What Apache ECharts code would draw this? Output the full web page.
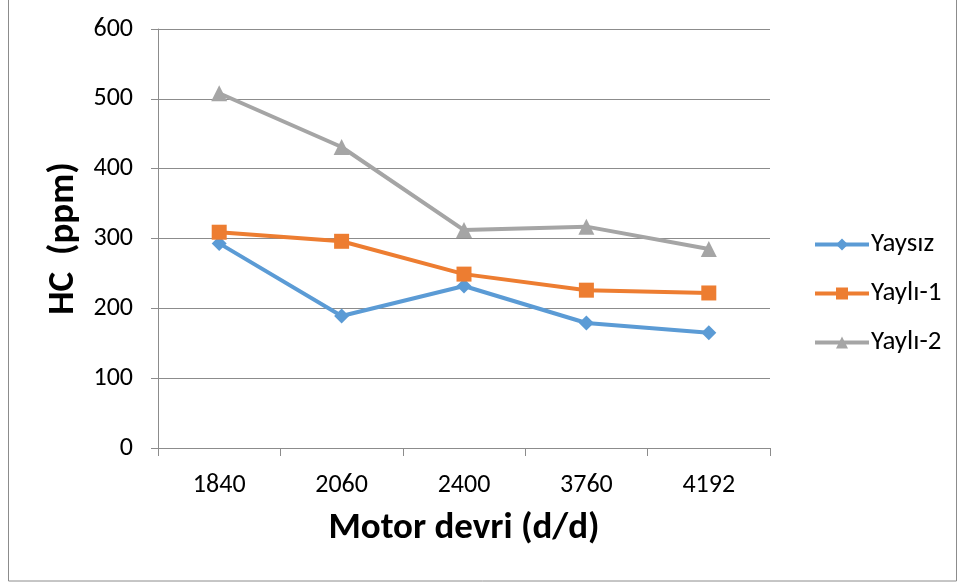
<!DOCTYPE html>
<html>
<head>
<meta charset="utf-8">
<script src="https://cdn.jsdelivr.net/npm/echarts@6/dist/echarts.min.js"></script>
<style>
  html, body { margin: 0; padding: 0; background: #fff; }
  #chart { width: 960px; height: 588px; }
</style>
</head>
<body>
<div id="chart"></div>
<script>
// Engine speed categories (rpm) and HC emissions (ppm) per configuration
const speeds = ['1840', '2060', '2400', '3760', '4192'];
const yaysiz = [293, 189, 232, 179, 165];
const yayli1 = [309, 296, 249, 226, 222];
const yayli2 = [508, 431, 312, 317, 285];
const yTicks = { min: 0, max: 600, interval: 100 };

const chart = echarts.init(document.getElementById('chart'));
const font = 'Calibri, Carlito, "Open Sans", "DejaVu Sans", sans-serif';

function lineSeries(name, data, color, symbol, size) {
  return {
    name: name,
    type: 'line',
    data: data,
    symbol: symbol,
    symbolSize: size,
    lineStyle: { color: color, width: 4 },
    itemStyle: { color: color },
    emphasis: { disabled: true },
    animation: false
  };
}

chart.setOption({
  animation: false,
  textStyle: { fontFamily: font },
  graphic: [{
    type: 'rect',
    shape: { x: 8.5, y: -2, width: 948, height: 583 },
    style: { fill: 'none', stroke: '#8c8c8c', lineWidth: 1 }
  }],
  grid: { left: 158, right: 190, top: 29, bottom: 140 },
  legend: {
    orient: 'vertical',
    left: 808,
    top: 226,
    itemWidth: 54,
    itemHeight: 15,
    itemGap: 22,
    lineStyle: { width: 4 },
    textStyle: { fontSize: 27, color: '#000', fontFamily: font, padding: [0, 0, 0, -3] },
    data: ['Yaysız', 'Yaylı-1', 'Yaylı-2']
  },
  xAxis: {
    type: 'category',
    data: speeds,
    boundaryGap: true,
    name: 'Motor devri (d/d)',
    nameLocation: 'middle',
    nameGap: 62,
    nameTextStyle: { fontSize: 37, fontWeight: 'bold', color: '#000', fontFamily: font },
    axisLine: { lineStyle: { color: '#8c8c8c', width: 1 } },
    axisTick: { show: true, length: 8, alignWithLabel: false, lineStyle: { color: '#8c8c8c' } },
    axisLabel: { fontSize: 26, color: '#000', margin: 24 },
    splitLine: { show: false }
  },
  yAxis: {
    type: 'value',
    min: yTicks.min,
    max: yTicks.max,
    interval: yTicks.interval,
    name: 'HC  (ppm)',
    nameLocation: 'middle',
    nameGap: 68,
    nameTextStyle: { fontSize: 37, fontWeight: 'bold', color: '#000', fontFamily: font },
    axisLine: { show: true, lineStyle: { color: '#8c8c8c', width: 1 } },
    axisTick: { show: true, length: 7, lineStyle: { color: '#8c8c8c' } },
    axisLabel: { fontSize: 26, color: '#000', margin: 25 },
    splitLine: { lineStyle: { color: '#8c8c8c', width: 1 } }
  },
  series: [
    lineSeries('Yaysız', yaysiz, '#5b9bd5', 'diamond', 15),
    lineSeries('Yaylı-1', yayli1, '#ed7d31', 'rect', 15),
    lineSeries('Yaylı-2', yayli2, '#a5a5a5', 'triangle', 16)
  ]
});
</script>
</body>
</html>
